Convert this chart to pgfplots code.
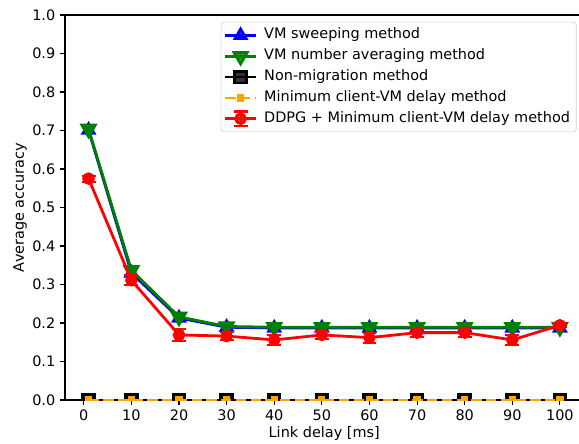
\documentclass[border=0pt]{standalone}
\usepackage{fontspec}
\setmainfont{DejaVu Sans}
\usepackage{pgfplots}
\usepackage{pgfplotstable}
\pgfplotsset{compat=1.18}
\definecolor{mplorange}{HTML}{FFA500}
\definecolor{mplgreen}{HTML}{008000}
\pgfplotstableread{
x blue green black orange red err
1 0.701 0.704 0 0 0.575 0.008
10 0.330 0.337 0 0 0.311 0.013
20 0.213 0.216 0 0 0.169 0.015
30 0.189 0.191 0 0 0.166 0.010
40 0.187 0.189 0 0 0.156 0.012
50 0.187 0.189 0 0 0.169 0.011
60 0.187 0.189 0 0 0.162 0.013
70 0.187 0.189 0 0 0.175 0.011
80 0.187 0.189 0 0 0.175 0.011
90 0.187 0.189 0 0 0.156 0.012
100 0.187 0.189 0 0 0.194 0.005
}\datatab
\begin{document}
\begin{tikzpicture}
\begin{axis}[
 at={(0,0)}, anchor=south west,
 scale only axis, width=373.3bp, height=277.2bp,
 xmin=-3.95, xmax=104.95, ymin=0, ymax=1,
 xtick={0,10,...,100}, ytick={0,0.1,...,1.0},
 yticklabel style={/pgf/number format/.cd, fixed, fixed zerofill, precision=1},
 /pgf/number format/assume math mode=true,
 tick label style={font=\fontsize{10.4bp}{12.5bp}\selectfont},
 label style={font=\fontsize{10.4bp}{12.5bp}\selectfont},
 xlabel style={yshift=2.5bp},
 ylabel style={yshift=-3bp},
 tick pos=left,
 tick align=outside, major tick length=3.5bp,
 tick style={black, line width=0.8bp},
 axis line style={line width=0.8bp},
 xlabel={Link delay [ms]}, ylabel={Average accuracy},
 clip marker paths=true,
 legend cell align=left,
 legend style={at={(1,1)}, anchor=north east, xshift=-5bp, yshift=-5bp,
   draw=black!20, rounded corners=2bp, fill=white, fill opacity=0.8, text opacity=1,
   draw opacity=1,
   font=\fontsize{10.4bp}{12.5bp}\selectfont, row sep=0pt, column sep=2.5bp, inner sep=2bp,
   nodes={inner sep=2.5bp, text height=7.5bp, text depth=2.5bp}},
 legend image code/.code={\draw[mark repeat=2, mark phase=2, #1] plot coordinates {(0bp,0bp) (11bp,0bp) (22bp,0bp)};},
]
\addplot[blue, line width=2bp, mark=triangle*, mark size=4.6bp] table[x=x, y=blue] {\datatab};
\addlegendentry{VM sweeping method}
\addplot[mplgreen, line width=2bp, mark=triangle*, mark size=5.5bp, mark options={rotate=180}] table[x=x, y=green] {\datatab};
\addlegendentry{VM number averaging method}
\addplot[black, line width=2bp, mark=square*, mark size=4.2bp] table[x=x, y=black] {\datatab};
\addlegendentry{Non-migration method}
\addplot[mplorange, line width=2bp, dash pattern=on 7.4bp off 3.2bp, mark=square*, mark size=1.6bp, mark options={solid}] table[x=x, y=orange] {\datatab};
\addlegendentry{Minimum client-VM delay method}
\addplot[red, line width=2bp, mark=*, mark size=3.5bp,
  legend image code/.code={\draw[red, line width=2bp] (0bp,0bp)--(22bp,0bp); \draw[red, line width=1.5bp] (11bp,-5.2bp)--(11bp,5.2bp) (6bp,-5.2bp)--(16bp,-5.2bp) (6bp,5.2bp)--(16bp,5.2bp); \fill[red] (11bp,0bp) circle (3.5bp);},
  error bars/.cd, y dir=both, y explicit,
  error bar style={line width=1.5bp, solid},
  error mark options={rotate=90, mark size=5bp, line width=1.5bp, solid}]
  table[x=x, y=red, y error=err] {\datatab};
\addlegendentry{DDPG + Minimum client-VM delay method}
\end{axis}
\pgfresetboundingbox
\useasboundingbox (-46.8bp,-31.5bp) rectangle (370.08bp,288bp);
\end{tikzpicture}
\end{document}
